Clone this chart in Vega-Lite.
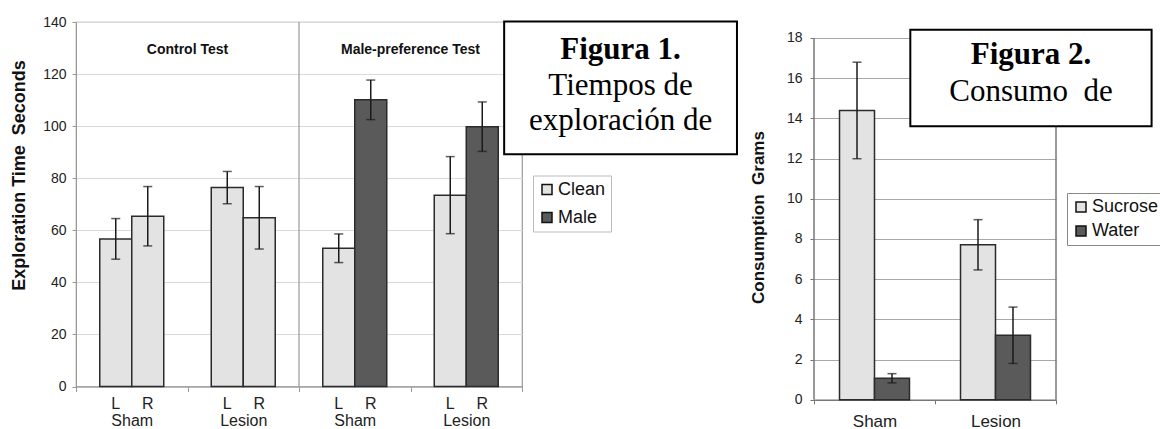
{
  "$schema": "https://vega.github.io/schema/vega-lite/v6.json",
  "padding": {"left": 10, "top": 14, "right": 0, "bottom": 0},
  "background": "white",
  "bounds": "flush",
  "spacing": 292,
  "config": {
    "font": "Liberation Sans",
    "axis": {"labelFont": "Liberation Sans", "titleFont": "Liberation Sans"},
    "legend": {"labelFont": "Liberation Sans"},
    "text": {"font": "Liberation Sans"}
  },
  "resolve": {"scale": {"fill": "independent", "xOffset": "independent"}, "legend": {"fill": "independent"}},
  "hconcat": [
    {
      "width": 446,
      "height": 364.5,
      "view": {"stroke": "#9a9a9a", "strokeWidth": 1.2},
      "resolve": {"scale": {"x": "independent"}, "axis": {"x": "independent"}},
      "layer": [
        {
          "layer": [
            {
              "data": {"values": [
                {"key": "Control|Sham", "side": "L", "stim": "Clean", "mean": 56.7, "se": 7.8},
                {"key": "Control|Sham", "side": "R", "stim": "Clean", "mean": 65.4, "se": 11.4},
                {"key": "Control|Lesion", "side": "L", "stim": "Clean", "mean": 76.4, "se": 6.2},
                {"key": "Control|Lesion", "side": "R", "stim": "Clean", "mean": 64.8, "se": 12.0},
                {"key": "Male|Sham", "side": "L", "stim": "Clean", "mean": 53.1, "se": 5.5},
                {"key": "Male|Sham", "side": "R", "stim": "Male", "mean": 110.1, "se": 7.6},
                {"key": "Male|Lesion", "side": "L", "stim": "Clean", "mean": 73.5, "se": 14.8},
                {"key": "Male|Lesion", "side": "R", "stim": "Male", "mean": 99.8, "se": 9.5}
              ]},
              "encoding": {
                "x": {
                  "field": "key", "type": "nominal",
                  "scale": {"domain": ["Control|Sham", "Control|Lesion", "Male|Sham", "Male|Lesion"], "paddingInner": 0, "paddingOuter": 0},
                  "axis": {
                    "title": null, "labelExpr": "split(datum.value, '|')[1]", "labelAngle": 0,
                    "tickBand": "extent", "tickSize": 5, "tickColor": "#999", "domainColor": "#999",
                    "labelFontSize": 16, "labelColor": "#222", "labelPadding": 21, "grid": false
                  }
                },
                "xOffset": {"field": "side", "type": "nominal", "scale": {"domain": ["L", "R"], "paddingInner": 0, "paddingOuter": 0.742}},
                "y": {
                  "field": "mean", "type": "quantitative",
                  "scale": {"domain": [0, 140], "nice": false},
                  "axis": {
                    "title": "Exploration Time \u00a0Seconds", "values": [0, 20, 40, 60, 80, 100, 120, 140],
                    "grid": true, "gridColor": "#dadada", "tickSize": 4, "tickColor": "#999", "domainColor": "#999",
                    "labelFontSize": 14, "labelColor": "#222", "labelPadding": 6,
                    "titleFontSize": 18, "titleFontWeight": "bold", "titleColor": "#111", "titlePadding": 14, "titleY": 153
                  }
                }
              },
              "layer": [
                {
                  "mark": {"type": "bar", "stroke": "#2b2b2b", "strokeWidth": 1.5},
                  "encoding": {
                    "fill": {
                      "field": "stim", "type": "nominal",
                      "scale": {"domain": ["Clean", "Male"], "range": ["#e3e3e3", "#5a5a5a"]},
                      "legend": {
                        "title": null, "orient": "none", "legendX": 457, "legendY": 153.5,
                        "symbolType": "square", "symbolSize": 100, "symbolStrokeColor": "#111", "symbolStrokeWidth": 1.5,
                        "labelFontSize": 18, "labelColor": "#111", "labelOffset": 2, "rowPadding": 10,
                        "padding": 5, "strokeColor": "#bbb", "fillColor": "white"
                      }
                    }
                  }
                },
                {
                  "mark": {"type": "errorbar", "color": "#1a1a1a", "ticks": {"size": 9, "thickness": 1.5}, "rule": {"strokeWidth": 1.5}},
                  "encoding": {"yError": {"field": "se"}}
                },
                {
                  "mark": {"type": "text", "fontSize": 16, "color": "#222", "baseline": "middle", "dy": 17},
                  "encoding": {"y": {"datum": 0}, "text": {"field": "side"}}
                }
              ]
            },
            {
              "data": {"values": [
                {"label": "Control Test", "at": "Control|Lesion"},
                {"label": "Male-preference Test", "at": "Male|Lesion"}
              ]},
              "mark": {"type": "text", "fontSize": 14, "fontWeight": "bold", "color": "#111", "baseline": "middle"},
              "encoding": {
                "x": {"field": "at", "type": "nominal", "bandPosition": 0},
                "y": {"datum": 129.4},
                "text": {"field": "label"}
              }
            },
            {
              "data": {"values": [{"at": "Male|Sham"}]},
              "mark": {"type": "rule", "color": "#9a9a9a", "strokeWidth": 1.2},
              "encoding": {"x": {"field": "at", "type": "nominal", "bandPosition": 0}}
            }
          ]
        },
        {
          "data": {"values": [{}]},
          "layer": [
            {
              "mark": {"type": "rect", "fill": "white", "stroke": "black", "strokeWidth": 2},
              "encoding": {
                "x": {"datum": 0.96, "scale": {"domain": [0, 1], "nice": false, "zero": false}, "axis": null},
                "x2": {"datum": 1.482},
                "y": {"datum": 140.2},
                "y2": {"datum": 89.2}
              }
            },
            {
              "mark": {"type": "text", "text": "Figura 1.", "font": "Liberation Serif", "fontSize": 31, "fontWeight": "bold", "color": "black", "align": "center", "baseline": "alphabetic"},
              "encoding": {"x": {"datum": 1.221}, "y": {"datum": 125.8}}
            },
            {
              "mark": {"type": "text", "text": "Tiempos de", "font": "Liberation Serif", "fontSize": 31, "color": "black", "align": "center", "baseline": "alphabetic"},
              "encoding": {"x": {"datum": 1.221}, "y": {"datum": 112.1}}
            },
            {
              "mark": {"type": "text", "text": "exploración de", "font": "Liberation Serif", "fontSize": 31, "color": "black", "align": "center", "baseline": "alphabetic"},
              "encoding": {"x": {"datum": 1.221}, "y": {"datum": 98.6}}
            }
          ]
        }
      ]
    },
    {
      "width": 242,
      "height": 377.8,
      "view": {"stroke": null},
      "resolve": {"scale": {"x": "independent"}, "axis": {"x": "independent"}},
      "layer": [
        {
          "layer": [
            {
              "data": {"values": [
                {"cond": "Sham", "liquid": "Sucrose", "mean": 14.39, "se": 2.4},
                {"cond": "Sham", "liquid": "Water", "mean": 1.07, "se": 0.23},
                {"cond": "Lesion", "liquid": "Sucrose", "mean": 7.71, "se": 1.25},
                {"cond": "Lesion", "liquid": "Water", "mean": 3.21, "se": 1.4}
              ]},
              "encoding": {
                "x": {
                  "field": "cond", "type": "nominal",
                  "scale": {"domain": ["Sham", "Lesion"], "paddingInner": 0, "paddingOuter": 0},
                  "axis": {
                    "title": null, "labelAngle": 0, "tickBand": "extent", "tickSize": 4, "tickColor": "#777",
                    "domainColor": "#777", "domainWidth": 1.5, "labelFontSize": 17, "labelColor": "#222", "labelPadding": 10, "grid": false
                  }
                },
                "xOffset": {"field": "liquid", "type": "nominal", "scale": {"domain": ["Sucrose", "Water"], "paddingInner": 0, "paddingOuter": 0.729}},
                "y": {
                  "field": "mean", "type": "quantitative",
                  "scale": {"domain": [0, 18.79], "nice": false},
                  "axis": {
                    "title": "Consumption \u00a0Grams", "values": [0, 2, 4, 6, 8, 10, 12, 14, 16, 18],
                    "grid": true, "gridColor": "#a8a8a8", "domain": false, "tickSize": 4, "tickColor": "#777",
                    "labelFontSize": 14, "labelColor": "#222", "labelPadding": 8,
                    "titleFontSize": 17, "titleFontWeight": "bold", "titleColor": "#111", "titlePadding": 19, "titleY": 195
                  }
                }
              },
              "layer": [
                {
                  "mark": {"type": "bar", "stroke": "#2b2b2b", "strokeWidth": 1.5},
                  "encoding": {
                    "fill": {
                      "field": "liquid", "type": "nominal",
                      "scale": {"domain": ["Sucrose", "Water"], "range": ["#e3e3e3", "#5a5a5a"]},
                      "legend": {
                        "title": null, "orient": "none", "legendX": 253, "legendY": 171,
                        "symbolType": "square", "symbolSize": 100, "symbolStrokeColor": "#111", "symbolStrokeWidth": 1.5,
                        "labelFontSize": 18, "labelColor": "#111", "labelOffset": 2, "rowPadding": 6,
                        "padding": 5, "strokeColor": "#888", "fillColor": "white"
                      }
                    }
                  }
                },
                {
                  "mark": {"type": "errorbar", "color": "#1a1a1a", "ticks": {"size": 9, "thickness": 1.5}, "rule": {"strokeWidth": 1.5}},
                  "encoding": {"yError": {"field": "se"}}
                }
              ]
            },
            {
              "data": {"values": [{"edge": "Sham"}]},
              "mark": {"type": "rule", "color": "#777", "strokeWidth": 1.5},
              "encoding": {"x": {"field": "edge", "type": "nominal", "bandPosition": 0}, "y": {"datum": 0}, "y2": {"datum": 18}}
            },
            {
              "data": {"values": [{"edge": "Lesion"}]},
              "mark": {"type": "rule", "color": "#777", "strokeWidth": 1.5},
              "encoding": {"x": {"field": "edge", "type": "nominal", "bandPosition": 1}, "y": {"datum": 0}, "y2": {"datum": 18}}
            }
          ]
        },
        {
          "data": {"values": [{}]},
          "layer": [
            {
              "mark": {"type": "rect", "fill": "white", "stroke": "black", "strokeWidth": 2},
              "encoding": {
                "x": {"datum": 0.398, "scale": {"domain": [0, 1], "nice": false, "zero": false}, "axis": null},
                "x2": {"datum": 1.395},
                "y": {"datum": 18.4},
                "y2": {"datum": 13.6}
              }
            },
            {
              "mark": {"type": "text", "text": "Figura 2.", "font": "Liberation Serif", "fontSize": 31, "fontWeight": "bold", "color": "black", "align": "center", "baseline": "alphabetic"},
              "encoding": {"x": {"datum": 0.897}, "y": {"datum": 16.71}}
            },
            {
              "mark": {"type": "text", "text": "Consumo \u00a0de", "font": "Liberation Serif", "fontSize": 31, "color": "black", "align": "center", "baseline": "alphabetic"},
              "encoding": {"x": {"datum": 0.897}, "y": {"datum": 14.88}}
            }
          ]
        }
      ]
    }
  ]
}
